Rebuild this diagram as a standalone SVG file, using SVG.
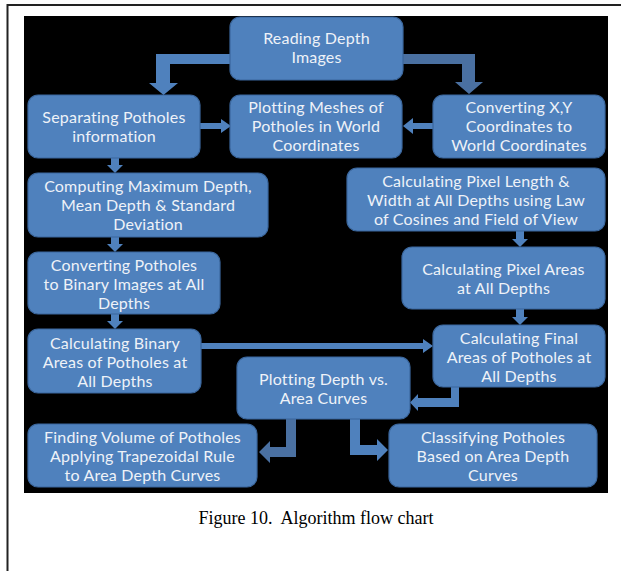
<svg xmlns="http://www.w3.org/2000/svg" width="621" height="571" viewBox="0 0 621 571">
<style>
.box{fill:#4f81bd;stroke:#3b679d;stroke-width:1.2}
.t{font-family:Lato,"Open Sans","Liberation Sans",sans-serif;font-size:16px;letter-spacing:0.2px;fill:#eef2f8;text-anchor:middle}
.ar{fill:#4f81bd}
.ard{fill:#4a70a1}
.cap{font-family:"Liberation Serif","Times New Roman",serif;font-size:18px;fill:#000;text-anchor:middle}
</style>
<rect x="0" y="0" width="621" height="571" fill="#fff"/>
<path d="M7.5 571 V5 H621" fill="none" stroke="#222" stroke-width="2"/>
<rect x="24" y="16" width="584" height="477" fill="#000"/>

<g id="connectors">
  <path class="ar" d="M231 54 H156 V83 H149 L163.5 95 L178 83 H170 V64 H231 Z" fill="#5287c6"/>
  <path class="ard" d="M402 54 H475 V82 H483 L469 94 L455 82 H462 V64 H402 Z"/>
  <path class="ar" d="M200 123 H221 V119 L231 126 L221 133 V129 H200 Z"/>
  <path class="ar" d="M434 123 H413 V118 L403 126 L413 134 V129 H434 Z"/>
  <path class="ar" d="M111 158 H119 V165 H123 L115 173 L107 165 H111 Z"/>
  <path class="ar" d="M111 237 H119 V244 H123 L115 252 L107 244 H111 Z"/>
  <path class="ar" d="M111 314 H119 V321 H123 L115 329 L107 321 H111 Z"/>
  <path class="ar" d="M516 231 H524 V239 H528 L520 247 L512 239 H516 Z"/>
  <path class="ar" d="M516 309 H524 V317 H528 L520 325 L512 317 H516 Z"/>
  <path class="ar" d="M201 343 H423 V339 L433 346 L423 353 V349 H201 Z"/>
  <path class="ar" d="M451 386 H459 V407 H418 V411 L410 402.5 L418 394 V398 H451 Z"/>
  <path class="ard" d="M286 419 H296 V457 H270 V463 L259 452 L270 441 V447 H286 Z"/>
  <path class="ar" d="M350 419 H360 V445 H377 V439 L388 450 L377 461 V455 H350 Z"/>
</g>

<g id="n1"><rect class="box" x="230" y="17" width="173" height="63" rx="10"/>
<text class="t" x="316.5" y="44">Reading Depth</text><text class="t" x="316.5" y="63">Images</text></g>

<g id="n2"><rect class="box" x="28" y="95" width="172" height="63" rx="10"/>
<text class="t" x="114" y="123">Separating Potholes</text><text class="t" x="114" y="142">information</text></g>

<g id="n3"><rect class="box" x="230" y="95" width="172" height="63" rx="10"/>
<text class="t" x="316" y="113">Plotting Meshes of</text><text class="t" x="316" y="132">Potholes in World</text><text class="t" x="316" y="151">Coordinates</text></g>

<g id="n4"><rect class="box" x="433" y="95" width="172" height="63" rx="10"/>
<text class="t" x="519" y="113">Converting X,Y</text><text class="t" x="519" y="132">Coordinates to</text><text class="t" x="519" y="151">World Coordinates</text></g>

<g id="n5"><rect class="box" x="28" y="173" width="240" height="64" rx="10"/>
<text class="t" x="148" y="192">Computing Maximum Depth,</text><text class="t" x="148" y="211">Mean Depth &amp; Standard</text><text class="t" x="148" y="230">Deviation</text></g>

<g id="n6"><rect class="box" x="347" y="168" width="258" height="63" rx="10"/>
<text class="t" x="476" y="187">Calculating Pixel Length &amp;</text><text class="t" x="476" y="206">Width at All Depths using Law</text><text class="t" x="476" y="225">of Cosines and Field of View</text></g>

<g id="n7"><rect class="box" x="28" y="252" width="192" height="62" rx="10"/>
<text class="t" x="124" y="271">Converting Potholes</text><text class="t" x="124" y="290">to Binary Images at All</text><text class="t" x="124" y="309">Depths</text></g>

<g id="n8"><rect class="box" x="402" y="247" width="203" height="62" rx="10"/>
<text class="t" x="503.5" y="275">Calculating Pixel Areas</text><text class="t" x="503.5" y="294">at All Depths</text></g>

<g id="n9"><rect class="box" x="28" y="329" width="173" height="64" rx="10"/>
<text class="t" x="115" y="349">Calculating Binary</text><text class="t" x="115" y="368">Areas of Potholes at</text><text class="t" x="115" y="387">All Depths</text></g>

<g id="n10"><rect class="box" x="433" y="325" width="172" height="62" rx="10"/>
<text class="t" x="519" y="344">Calculating Final</text><text class="t" x="519" y="363">Areas of Potholes at</text><text class="t" x="519" y="382">All Depths</text></g>

<g id="n11"><rect class="box" x="237" y="357" width="173" height="62" rx="10"/>
<text class="t" x="323.5" y="385">Plotting Depth vs.</text><text class="t" x="323.5" y="404">Area Curves</text></g>

<g id="n12"><rect class="box" x="28" y="424" width="229" height="63" rx="10"/>
<text class="t" x="142.5" y="443">Finding Volume of Potholes</text><text class="t" x="142.5" y="462">Applying Trapezoidal Rule</text><text class="t" x="142.5" y="481">to Area Depth Curves</text></g>

<g id="n13"><rect class="box" x="389" y="424" width="208" height="63" rx="10"/>
<text class="t" x="493" y="443">Classifying Potholes</text><text class="t" x="493" y="462">Based on Area Depth</text><text class="t" x="493" y="481">Curves</text></g>

<text class="cap" x="316" y="524" xml:space="preserve">Figure 10.  Algorithm flow chart</text>
</svg>
